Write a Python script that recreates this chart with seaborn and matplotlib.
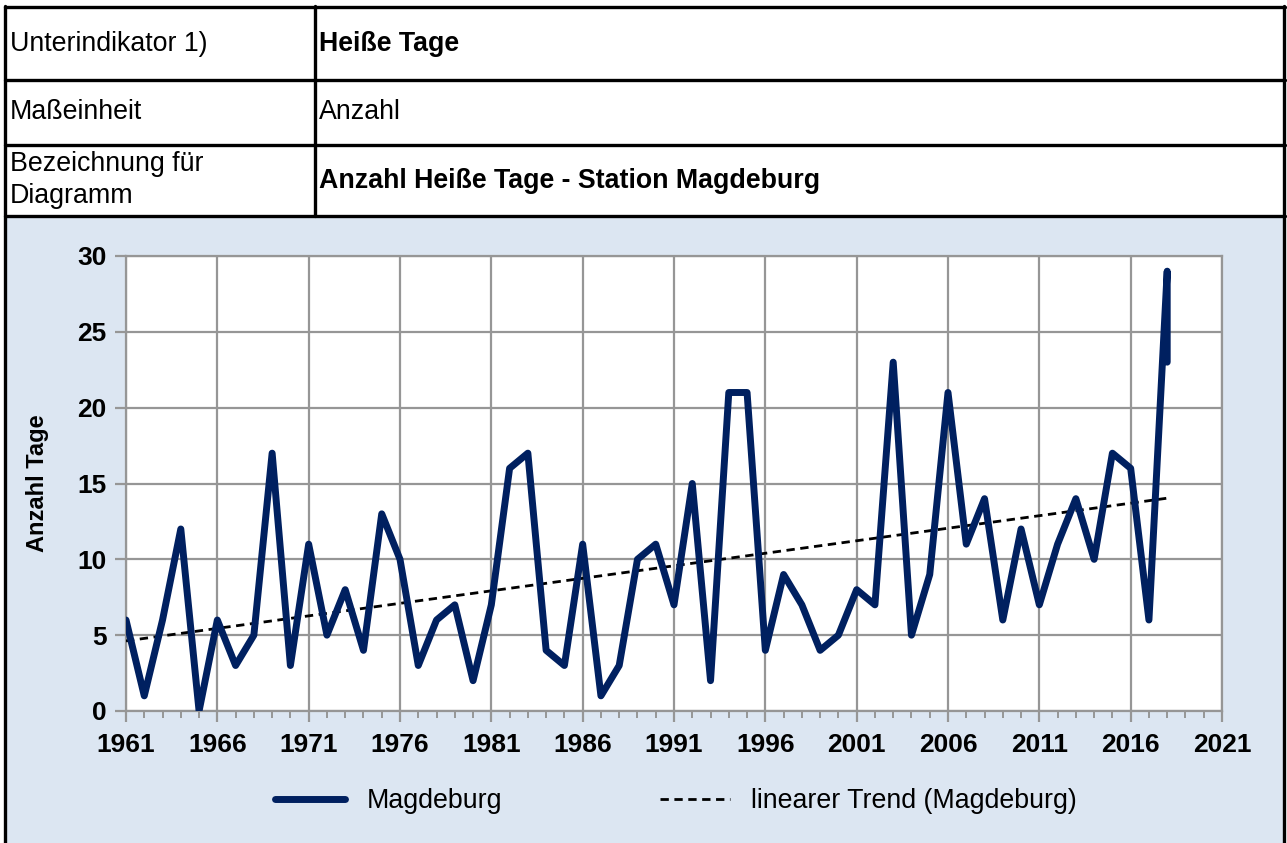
import numpy as np
import pandas as pd
import matplotlib
matplotlib.use("Agg")
import matplotlib.pyplot as plt
import seaborn as sns
from matplotlib.patches import Rectangle
from matplotlib.lines import Line2D

# Data: hot days per year, station Magdeburg (last value sits on 2018 again)
years = list(range(1961, 2019)) + [2018]
hot_days = [6, 1, 6, 12, 0, 6, 3, 5, 17, 3,
            11, 5, 8, 4, 13, 10, 3, 6, 7, 2,
            7, 16, 17, 4, 3, 11, 1, 3, 10, 11,
            7, 15, 2, 21, 21, 4, 9, 7, 4, 5,
            8, 7, 23, 5, 9, 21, 11, 14, 6, 12,
            7, 11, 14, 10, 17, 16, 6, 29, 23]
x_ticks = list(range(1961, 2022, 5))
y_ticks = [0, 5, 10, 15, 20, 25, 30]

df = pd.DataFrame({"Jahr": years, "Tage": hot_days})

W, H = 1287, 843
NAVY = "#002060"
GRID = "#969696"
BG = "#DCE6F2"

sns.set_theme(style="white")
plt.rcParams["font.family"] = ["Liberation Sans", "DejaVu Sans"]
plt.rcParams.update({"text.color": "black", "axes.labelcolor": "black",
                     "xtick.color": "black", "ytick.color": "black"})

fig = plt.figure(figsize=(W / 100, H / 100), dpi=100)
fig.patch.set_facecolor("white")


def fx(px):
    return px / W


def fy(py):
    return 1 - py / H


# header table and chart panel
fig.add_artist(Rectangle((fx(6), 0), fx(1278), fy(216), transform=fig.transFigure,
                         facecolor=BG, edgecolor="none", zorder=0))
lw_b = 2.4
for y in [7, 80, 145, 216]:
    fig.add_artist(Line2D([fx(5), fx(1285)], [fy(y), fy(y)], color="black", lw=lw_b,
                          transform=fig.transFigure))
fig.add_artist(Line2D([fx(5), fx(5)], [fy(6), 0], color="black", lw=lw_b, transform=fig.transFigure))
fig.add_artist(Line2D([fx(1284), fx(1284)], [fy(6), 0], color="black", lw=lw_b, transform=fig.transFigure))
fig.add_artist(Line2D([fx(315), fx(315)], [fy(6), fy(216)], color="black", lw=lw_b,
                      transform=fig.transFigure))

fs_t = 19.3
fig.text(fx(10), fy(44), "Unterindikator 1)", fontsize=fs_t, va="center", ha="left")
fig.text(fx(319), fy(44), "Heiße Tage", fontsize=fs_t, va="center", ha="left", fontweight="bold")
fig.text(fx(10), fy(112), "Maßeinheit", fontsize=fs_t, va="center", ha="left")
fig.text(fx(319), fy(112), "Anzahl", fontsize=fs_t, va="center", ha="left")
fig.text(fx(10), fy(180), "Bezeichnung für\nDiagramm", fontsize=fs_t, va="center", ha="left",
         linespacing=1.3)
fig.text(fx(319), fy(181), "Anzahl Heiße Tage - Station Magdeburg", fontsize=fs_t, va="center",
         ha="left", fontweight="bold")

# chart
ax = fig.add_axes([fx(126), fy(711), fx(1222 - 126), (711 - 256) / H])
ax.set_facecolor("white")

sns.regplot(data=df, x="Jahr", y="Tage", scatter=False, ci=None, truncate=True, ax=ax,
            line_kws=dict(color="black", lw=2.0, ls=(0, (3, 2)), zorder=3))
sns.lineplot(data=df, x="Jahr", y="Tage", estimator=None, sort=False, ax=ax,
             color=NAVY, lw=5, solid_joinstyle="round", solid_capstyle="round", zorder=4)

ax.set_xlim(1961, 2021)
ax.set_ylim(0, 30)
ax.set_xticks(x_ticks)
ax.set_xticks(range(1961, 2022), minor=True)
ax.set_yticks(y_ticks)
ax.grid(True, which="major", color=GRID, lw=1.6)
for s in ax.spines.values():
    s.set_color(GRID)
    s.set_linewidth(1.6)
ax.tick_params(axis="both", which="major", direction="out", length=8, width=1.6, color=GRID,
               labelsize=19, pad=6)
ax.tick_params(axis="x", which="minor", direction="out", length=5, width=1.4, color=GRID, bottom=True)
ax.tick_params(axis="x", which="major", bottom=True, pad=8)
ax.tick_params(axis="y", left=True)
for lab in ax.get_xticklabels() + ax.get_yticklabels():
    lab.set_fontweight("bold")
ax.set_xlabel("")
ax.set_ylabel("Anzahl Tage", fontsize=17, fontweight="bold", labelpad=20)

handles = [Line2D([], [], color=NAVY, lw=5, solid_capstyle="round"),
           Line2D([], [], color="black", lw=2.0, ls=(0, (3, 2)))]
fig.legend(handles, ["Magdeburg", "linearer Trend (Magdeburg)"], loc="center",
           bbox_to_anchor=(fx(676), fy(801)), ncol=2, frameon=False, fontsize=19.3,
           handlelength=2.6, handletextpad=0.8, columnspacing=5.9)

fig.savefig("out.png", dpi=100)
